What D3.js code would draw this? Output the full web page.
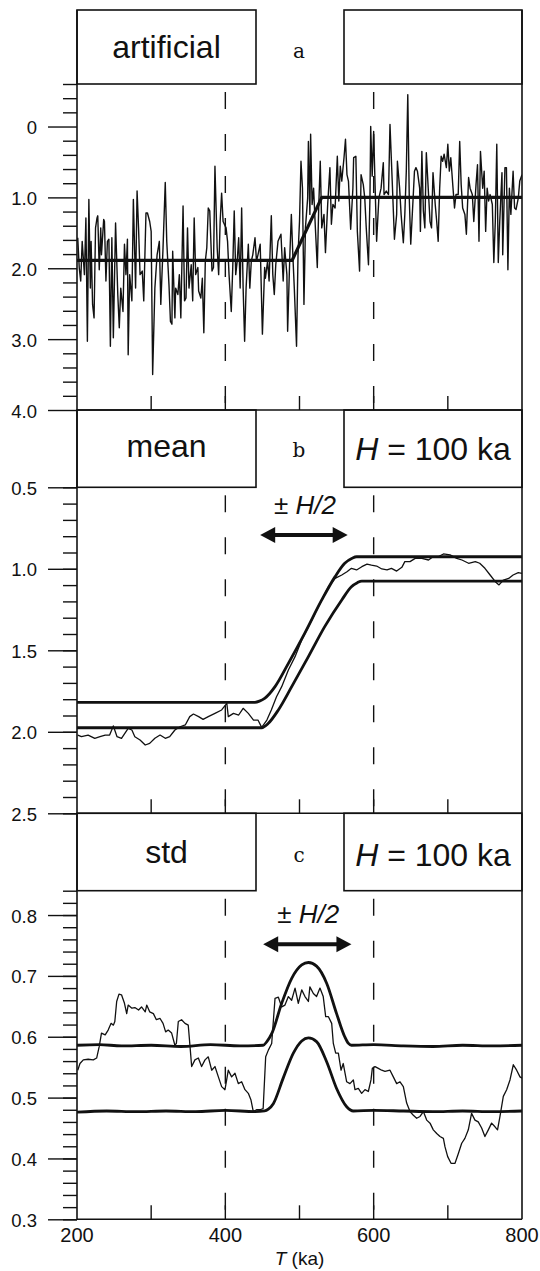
<!DOCTYPE html>
<html><head><meta charset="utf-8">
<script src="https://cdn.jsdelivr.net/npm/d3@7"></script>
<style>body{margin:0;background:#fff}svg{display:block}</style>
</head><body>
<svg id="c" width="540" height="1271"></svg>
<script>
// ---------------- data ----------------
const xTickValues = [200, 400, 600, 800];
const xTickLabels = ["200", "400", "600", "800"];
const xMinorTicks = [300, 400, 500, 600, 700];
const dashedAt = [400, 600];

const aMajorTicks = [0, 1, 2, 3, 4];
const aMajorLabels = ["0", "1.0", "2.0", "3.0", "4.0"];
const bMajorTicks = [0.5, 1.0, 1.5, 2.0, 2.5];
const bMajorLabels = ["0.5", "1.0", "1.5", "2.0", "2.5"];
const cMajorTicks = [0.3, 0.4, 0.5, 0.6, 0.7, 0.8];
const cMajorLabels = ["0.3", "0.4", "0.5", "0.6", "0.7", "0.8"];

// panel a: artificial series (T ka, value)
const artificial = [
[201,1.57],[203,1.99],[205,2.18],[207,1.62],[210,2.09],[212,1.29],[214,3.03],[216,1.03],[218,2.28],[219,1.62],
[221,2.51],[223,2.70],[225,1.43],[227,1.29],[228,1.26],[230,2.02],[232,1.43],[233,1.81],[236,1.31],[237,1.34],
[239,2.18],[241,1.62],[243,1.59],[245,3.10],[247,1.57],[249,2.98],[252,1.36],[255,2.37],[257,2.84],[259,2.28],
[262,2.61],[264,1.66],[266,2.09],[268,1.59],[269,3.22],[271,2.09],[274,2.46],[276,1.03],[279,2.28],[281,0.91],
[283,1.43],[285,2.09],[288,2.04],[290,2.46],[293,1.22],[295,1.22],[298,1.34],[300,1.48],[302,3.50],[305,2.28],
[308,1.81],[311,1.62],[313,2.51],[316,1.71],[319,0.79],[321,1.62],[324,2.23],[326,2.75],[328,2.79],[329,1.76],
[332,2.70],[333,2.28],[336,2.37],[338,2.09],[340,2.70],[343,1.12],[345,2.46],[347,2.42],[349,1.43],[351,2.28],
[354,1.95],[356,2.46],[358,1.29],[360,2.09],[363,1.99],[364,2.32],[367,2.42],[369,2.14],[371,2.91],[373,1.90],
[375,1.71],[377,1.15],[379,1.19],[382,2.04],[384,1.99],[386,0.56],[389,1.71],[391,2.09],[393,1.34],[395,0.94],
[397,1.34],[401,1.43],[403,1.62],[405,2.09],[408,2.61],[410,1.99],[412,1.19],[414,2.09],[416,1.90],[418,1.57],
[420,2.28],[422,1.15],[424,2.28],[426,3.03],[428,2.28],[431,1.66],[433,2.28],[435,1.90],[437,1.81],[440,1.57],
[442,1.90],[444,1.81],[447,1.66],[450,2.93],[453,1.99],[454,2.14],[457,1.90],[459,2.18],[462,1.26],[464,2.09],
[466,2.37],[468,1.95],[471,1.62],[473,1.57],[475,1.52],[478,2.18],[480,1.71],[483,2.09],[484,2.89],[487,1.81],
[489,1.24],[491,1.81],[493,2.28],[496,3.10],[498,1.81],[500,1.34],[502,0.49],[504,0.87],[506,2.51],[508,1.43],
[511,1.01],[512,0.21],[514,1.24],[515,0.11],[517,1.10],[519,0.87],[521,1.34],[524,1.99],[526,1.10],[528,0.49],
[530,1.43],[533,1.24],[535,1.78],[538,1.10],[541,0.58],[543,1.38],[545,1.10],[548,1.15],[551,0.42],[553,1.05],
[555,0.56],[557,0.77],[560,0.44],[562,0.18],[564,0.68],[566,0.77],[569,1.45],[572,0.87],[573,0.44],[576,0.42],
[578,1.48],[581,2.04],[583,0.68],[586,0.82],[588,1.01],[590,1.43],[593,1.95],[595,1.01],[596,0.00],[598,0.70],
[600,0.07],[602,0.87],[604,1.62],[607,1.01],[610,0.87],[613,0.51],[614,0.96],[617,0.91],[620,0.96],[622,-0.03],
[625,0.77],[628,1.59],[631,1.24],[632,0.49],[635,0.87],[637,1.24],[640,1.64],[642,1.24],[644,0.63],[646,-0.45],
[648,1.01],[650,1.66],[653,1.05],[655,0.63],[657,0.58],[659,0.63],[662,0.87],[663,1.48],[665,0.35],[667,1.19],
[669,1.43],[671,0.37],[674,0.96],[676,1.34],[678,1.43],[680,0.65],[683,1.10],[685,1.34],[687,1.62],[689,0.87],
[691,0.42],[693,0.49],[695,0.39],[698,0.58],[700,0.25],[702,0.63],[704,0.44],[707,0.87],[709,1.15],[711,0.96],
[714,0.96],[716,0.21],[718,0.82],[720,1.15],[723,1.24],[725,1.52],[728,0.72],[730,0.87],[733,0.96],[735,1.34],
[738,0.82],[740,0.54],[742,1.62],[744,0.35],[747,0.87],[749,0.63],[751,1.48],[753,0.87],[755,1.05],[757,0.96],
[760,1.10],[762,1.92],[764,1.34],[766,0.25],[768,1.92],[770,1.34],[773,0.65],[774,1.81],[777,0.58],[779,0.58],
[781,2.02],[783,0.87],[785,1.24],[788,0.63],[790,1.15],[792,1.17],[795,1.01],[797,0.77],[800,0.68]
];
const ramp = [[200,1.89],[490,1.89],[530,1.0],[800,1.0]];

// panel b: running mean and its two bounds
const meanSeries = [
[201,2.020],[206,2.030],[215,2.020],[224,2.040],[231,2.030],[238,2.020],[244,2.020],[249,1.964],[254,2.030],[260,2.040],
[269,1.979],[274,1.989],[278,2.030],[285,2.050],[292,2.081],[298,2.071],[305,2.040],[312,2.020],[319,2.040],[325,2.030],
[332,1.989],[339,1.969],[346,1.958],[352,1.907],[357,1.891],[364,1.907],[370,1.924],[377,1.907],[386,1.887],[395,1.866],
[402,1.825],[404,1.907],[411,1.887],[418,1.897],[424,1.856],[431,1.887],[438,1.928],[444,1.928],[449,1.973],[456,1.928],
[462,1.866],[469,1.785],[476,1.723],[485,1.621],[494,1.539],[503,1.437],[512,1.355],[521,1.273],[530,1.191],[539,1.110],
[548,1.059],[557,1.038],[564,1.018],[570,0.997],[577,1.007],[584,0.987],[591,0.971],[597,0.977],[604,0.983],[611,1.001],
[618,1.007],[624,0.997],[631,1.014],[638,0.991],[642,0.956],[649,0.956],[656,0.936],[665,0.936],[674,0.946],[680,0.926],
[687,0.926],[694,0.909],[703,0.915],[712,0.936],[719,0.946],[728,0.966],[737,0.956],[743,0.966],[750,0.997],[757,1.038],
[764,1.079],[769,1.099],[775,1.069],[782,1.059],[788,1.038],[795,1.024],[800,1.028]
];
const meanBandUpper = [[200,1.819],[440,1.819],[446,1.812],[453,1.795],[467,1.723],[485,1.580],[507,1.396],[530,1.191],[548,1.048],[561,0.966],[571,0.935],[577,0.926],[800,0.926]];
const meanBandLower = [[200,1.975],[449,1.975],[458,1.948],[471.5,1.866],[489.5,1.723],[512,1.539],[534,1.355],[557,1.191],[570,1.110],[578,1.085],[584,1.075],[800,1.075]];

// panel c: running std and its two bounds
const stdSeries = [
[201,0.545],[204,0.556],[208.5,0.562],[215,0.563],[222,0.562],[226.5,0.565],[230,0.584],[233,0.606],[238,0.603],[242,0.611],
[246,0.622],[249,0.619],[251,0.625],[253.5,0.658],[256.6,0.670],[260,0.669],[264,0.655],[267,0.638],[269,0.652],[274,0.647],
[278,0.648],[283,0.644],[287,0.649],[292,0.641],[294,0.652],[298,0.641],[303,0.638],[307,0.628],[312,0.630],[316,0.622],
[319.5,0.608],[323,0.611],[327.6,0.606],[332,0.586],[334,0.589],[336.6,0.625],[341,0.628],[345.6,0.622],[350,0.619],[352.4,0.584],
[354.6,0.551],[359,0.562],[363.6,0.565],[368,0.551],[372.6,0.562],[377,0.567],[381.6,0.545],[386,0.551],[390.6,0.534],[395,0.518],
[399.5,0.513],[401.8,0.529],[404,0.545],[408.5,0.534],[413,0.540],[417.5,0.523],[422,0.526],[426.5,0.513],[431,0.507],[434.6,0.496],
[437.7,0.477],[442,0.480],[446.7,0.480],[451,0.482],[454.4,0.567],[458,0.578],[462.5,0.589],[467,0.663],[471.5,0.665],[476,0.649],
[480.4,0.652],[485,0.666],[489.4,0.660],[494,0.680],[498.4,0.655],[503,0.677],[507.4,0.666],[512,0.658],[514,0.682],[518.7,0.671],
[523,0.666],[527.6,0.680],[532,0.666],[535.3,0.633],[539,0.633],[543.4,0.622],[545.6,0.589],[548.8,0.573],[552.4,0.573],[556,0.545],
[559,0.556],[563.6,0.526],[568,0.523],[572.6,0.529],[574.8,0.513],[579.3,0.515],[583.8,0.507],[588.3,0.513],[592.8,0.510],[596.4,0.529],
[598.2,0.548],[601.8,0.551],[606.3,0.548],[610.8,0.545],[615.3,0.543],[622,0.545],[626.5,0.534],[631,0.523],[635.5,0.526],[640,0.518],
[644.5,0.491],[649,0.477],[653.5,0.471],[658,0.466],[662.5,0.469],[667,0.477],[671.5,0.463],[676,0.458],[680.4,0.447],[685,0.441],
[689.4,0.436],[694,0.433],[696.2,0.419],[699.8,0.403],[704.3,0.392],[709.7,0.392],[714.2,0.408],[718.7,0.425],[723,0.433],[727.6,0.447],
[732,0.474],[736.6,0.463],[741,0.460],[745.6,0.450],[750,0.436],[754.6,0.447],[759,0.458],[763.6,0.452],[767,0.447],[770.3,0.469],
[774.8,0.502],[779.3,0.513],[783.8,0.529],[788.3,0.554],[792.8,0.545],[797.3,0.534],[800,0.532]
];
const stdBandUpper = [[200,0.586],[230,0.587],[260,0.585],[300,0.586],[340,0.584],[380,0.587],[420,0.585],[451,0.586],[456,0.592],[462.5,0.605],[476,0.655],[489.5,0.696],[503,0.718],[512,0.722],[523,0.716],[536.6,0.688],[550,0.638],[561,0.600],[566,0.589],[570,0.586],[600,0.587],[640,0.585],[680,0.584],[720,0.586],[760,0.585],[800,0.586]];
const stdBandLower = [[200,0.476],[240,0.478],[280,0.477],[320,0.478],[360,0.477],[400,0.479],[440,0.477],[453,0.478],[458,0.481],[464.7,0.490],[478,0.532],[491.7,0.573],[503,0.593],[512,0.598],[523,0.592],[536.6,0.559],[550,0.515],[563.6,0.485],[572.6,0.478],[600,0.479],[640,0.478],[680,0.477],[720,0.478],[760,0.477],[800,0.478]];

// ±H/2 arrows: [T start, T end, value level]
const arrowB = [447, 565, 0.793];
const arrowC = [451, 570, 0.752];

// ---------------- drawing ----------------
const FONT = "'Liberation Sans', Arial, Helvetica, sans-serif";
const svg = d3.select("#c");
const x = d3.scaleLinear().domain([200, 800]).range([77, 522]);

const panels = [
  { id: "a", top: 10, y: d3.scaleLinear().domain([-0.6, 4.0]).range([84, 410]), hbVal: -0.6, botVal: 4.0,
    majors: aMajorTicks, labels: aMajorLabels, minors: d3.range(-3, 21).map(i => +(i * 0.2).toFixed(2)).filter(v => Math.abs(v - Math.round(v)) > 1e-6),
    title: "artificial", titleY: 58, letterY: 58, right: false },
  { id: "b", top: 410, y: d3.scaleLinear().domain([0.5, 2.5]).range([487.3, 813.3]), hbVal: 0.5, botVal: 2.5,
    majors: bMajorTicks, labels: bMajorLabels, minors: d3.range(5, 26).map(i => +(i * 0.1).toFixed(2)),
    title: "mean", titleY: 457, letterY: 457, right: true, arrow: arrowB },
  { id: "c", top: 813.3, y: d3.scaleLinear().domain([0.84, 0.3]).range([890.7, 1219.3]), hbVal: 0.84, botVal: 0.3,
    majors: cMajorTicks, labels: cMajorLabels, minors: d3.range(15, 43).map(i => +(i * 0.02).toFixed(2)),
    title: "std", titleY: 863, letterY: 862, right: true, arrow: arrowC }
];

const line = (yS, curve) => d3.line().x(d => x(d[0])).y(d => yS(d[1])).curve(curve || d3.curveLinear);

panels.forEach((p, i) => {
  const g = svg.append("g");
  const yS = p.y;
  const hb = yS(p.hbVal), bot = yS(p.botVal), top = p.top;

  svg.append("clipPath").attr("id", "clip" + p.id)
    .append("rect").attr("x", x(200)).attr("y", hb).attr("width", x(800) - x(200)).attr("height", bot - hb);

  g.selectAll(".dash").data(dashedAt).join("line")
    .attr("x1", d => x(d)).attr("x2", d => x(d)).attr("y1", hb).attr("y2", bot)
    .attr("stroke", "#111").attr("stroke-width", 1.4).attr("stroke-dasharray", "17,25").attr("stroke-dashoffset", -8);

  g.selectAll(".xt").data(xMinorTicks).join("line")
    .attr("x1", d => x(d)).attr("x2", d => x(d)).attr("y1", bot).attr("y2", bot - 14)
    .attr("stroke", "#111").attr("stroke-width", 1.4);

  g.append("line").attr("x1", x(200)).attr("x2", x(200)).attr("y1", top).attr("y2", bot).attr("stroke", "#111").attr("stroke-width", 1.6);
  g.append("line").attr("x1", x(800)).attr("x2", x(800)).attr("y1", top).attr("y2", bot).attr("stroke", "#111").attr("stroke-width", 1.6);
  g.append("line").attr("x1", x(200)).attr("x2", x(800)).attr("y1", bot).attr("y2", bot).attr("stroke", "#111").attr("stroke-width", 1.6);

  g.append("rect").attr("x", x(200)).attr("y", top).attr("width", 256 - x(200)).attr("height", hb - top)
    .attr("fill", "none").attr("stroke", "#111").attr("stroke-width", 1.6);
  g.append("rect").attr("x", 344).attr("y", top).attr("width", x(800) - 344).attr("height", hb - top)
    .attr("fill", "none").attr("stroke", "#111").attr("stroke-width", 1.6);

  g.append("text").attr("x", 166.5).attr("y", p.titleY).attr("text-anchor", "middle")
    .attr("font-family", FONT).attr("font-size", 32).attr("fill", "#111").text(p.title);
  g.append("text").attr("x", 299).attr("y", p.letterY).attr("text-anchor", "middle")
    .attr("font-family", "'DejaVu Serif', serif").attr("font-size", 20).attr("fill", "#111").text(p.id);
  if (p.right) {
    const t = g.append("text").attr("x", 433).attr("y", p.titleY + 3).attr("text-anchor", "middle")
      .attr("font-family", FONT).attr("font-size", 32).attr("fill", "#111");
    t.append("tspan").attr("font-style", "italic").text("H");
    t.append("tspan").text(" = 100 ka");
  }

  const ax = d3.axisLeft(yS).tickValues(p.majors).tickSize(29).tickPadding(11).tickFormat((d, k) => p.labels[k]);
  const ga = g.append("g").attr("transform", `translate(${x(200)},0)`).call(ax);
  ga.select(".domain").remove();
  ga.selectAll("line").attr("stroke", "#111").attr("stroke-width", 1.4);
  ga.selectAll("text").attr("font-family", FONT).attr("font-size", 18.5).attr("fill", "#111").attr("dy", "0.38em");
  const axm = d3.axisLeft(yS).tickValues(p.minors).tickSize(14).tickFormat("");
  const gm = g.append("g").attr("transform", `translate(${x(200)},0)`).call(axm);
  gm.select(".domain").remove();
  gm.selectAll("line").attr("stroke", "#111").attr("stroke-width", 1.4);

  if (p.arrow) {
    const [t1, t2, v] = p.arrow;
    const ay = yS(v), x1 = x(t1), x2 = x(t2), hl = 15, hh = 8;
    g.append("line").attr("x1", x1 + hl - 2).attr("x2", x2 - hl + 2).attr("y1", ay).attr("y2", ay)
      .attr("stroke", "#111").attr("stroke-width", 4);
    g.append("path").attr("d", `M${x1},${ay}L${x1 + hl},${ay - hh}L${x1 + hl},${ay + hh}Z`).attr("fill", "#111");
    g.append("path").attr("d", `M${x2},${ay}L${x2 - hl},${ay - hh}L${x2 - hl},${ay + hh}Z`).attr("fill", "#111");
    const tx = g.append("text").attr("x", (x1 + x2) / 2 + 1).attr("y", ay - 21).attr("text-anchor", "middle")
      .attr("font-family", FONT).attr("font-size", 26).attr("fill", "#111");
    tx.append("tspan").text("± ");
    tx.append("tspan").attr("font-style", "italic").text("H/2");
  }

  const lg = g.append("g").attr("clip-path", `url(#clip${p.id})`).attr("fill", "none").attr("stroke", "#111")
    .attr("stroke-linejoin", "round");
  if (p.id === "a") {
    lg.append("path").datum(artificial).attr("d", line(yS)).attr("stroke-width", 1.4);
    lg.append("path").datum(ramp).attr("d", line(yS)).attr("stroke-width", 3.2);
  } else if (p.id === "b") {
    lg.append("path").datum(meanSeries).attr("d", line(yS)).attr("stroke-width", 1.3);
    lg.append("path").datum(meanBandUpper).attr("d", line(yS, d3.curveMonotoneX)).attr("stroke-width", 2.8);
    lg.append("path").datum(meanBandLower).attr("d", line(yS, d3.curveMonotoneX)).attr("stroke-width", 2.8);
  } else {
    lg.append("path").datum(stdSeries).attr("d", line(yS)).attr("stroke-width", 1.3);
    lg.append("path").datum(stdBandUpper).attr("d", line(yS, d3.curveMonotoneX)).attr("stroke-width", 2.8);
    lg.append("path").datum(stdBandLower).attr("d", line(yS, d3.curveMonotoneX)).attr("stroke-width", 2.8);
  }

  if (i === panels.length - 1) {
    svg.append("g").selectAll("text").data(xTickValues).join("text")
      .attr("x", d => x(d)).attr("y", bot + 23).attr("text-anchor", "middle")
      .attr("font-family", FONT).attr("font-size", 20).attr("fill", "#111").text((d, k) => xTickLabels[k]);
    const lab = svg.append("text").attr("x", x(500)).attr("y", bot + 46).attr("text-anchor", "middle")
      .attr("font-family", FONT).attr("font-size", 19).attr("fill", "#111");
    lab.append("tspan").attr("font-style", "italic").text("T");
    lab.append("tspan").text(" (ka)");
  }
});
</script>
</body></html>
